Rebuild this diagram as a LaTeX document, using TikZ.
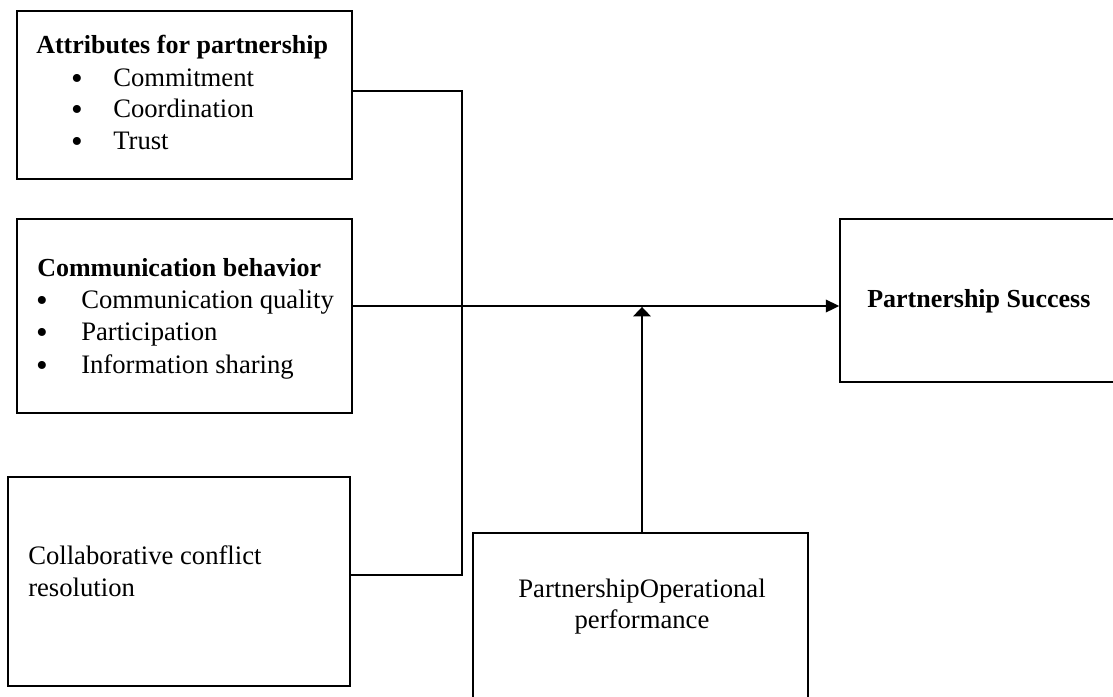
\documentclass[tikz,border=0pt]{standalone}
\usepackage{fontspec}
\setmainfont{Liberation Serif}
\usetikzlibrary{arrows.meta,fit}
\begin{document}
\begin{tikzpicture}[x=0.75pt,y=-0.75pt,
  box/.style={draw, line width=1.3pt, inner sep=0pt},
  txt/.style={inner sep=0pt, anchor=base west, font=\fontsize{20}{24}\selectfont},
  btxt/.style={inner sep=0pt, anchor=base west, font=\fontsize{19.5}{24}\selectfont\bfseries},
  ctxt/.style={inner sep=0pt, anchor=base, font=\fontsize{20}{24}\selectfont},
  bul/.style={inner sep=0pt, anchor=base, font=\fontsize{25}{24}\selectfont},
  conn/.style={line width=1.3pt},
  arr/.style={conn, -{Triangle[length=10pt,width=9.5pt]}},
  uarr/.style={conn, -{Triangle[length=7pt,width=13pt]}}]
\useasboundingbox (0,0) rectangle (1113,696);
\clip (0,0) rectangle (1113,696);

% boxes
\node[box, fit={(17,11) (352,179)}] (b1) {};
\node[box, fit={(17,219) (352,413)}] (b2) {};
\node[box, fit={(8,477) (350,686)}] (b3) {};
\node[box, fit={(840,219) (1125,382)}] (b4) {};
\node[box, fit={(473,533) (808,720)}] (b5) {};

% box 1 text
\node[btxt] (t1) at (36,53) {Attributes for partnership};
\node[bul] (b1a) at (77,89) {\textbullet};
\node[txt] (t1a) at (113,86) {Commitment};
\node[bul] (b1b) at (77,120) {\textbullet};
\node[txt] (t1b) at (113,117) {Coordination};
\node[bul] (b1c) at (77,152) {\textbullet};
\node[txt] (t1c) at (113,149) {Trust};

% box 2 text
\node[btxt] (t2) at (37,276) {Communication behavior};
\node[bul] (b2a) at (42,311) {\textbullet};
\node[txt] (t2a) at (81,308) {Communication quality};
\node[bul] (b2b) at (42,343) {\textbullet};
\node[txt] (t2b) at (81,340) {Participation};
\node[bul] (b2c) at (42,376) {\textbullet};
\node[txt] (t2c) at (81,373) {Information sharing};

% box 3 text
\node[txt] (t3a) at (28,564) {Collaborative conflict};
\node[txt] (t3b) at (28,596) {resolution};

% box 4 text
\node[btxt] (t4) at (867,307) {Partnership Success};

% box 5 text
\node[ctxt] (t5a) at (642,597) {PartnershipOperational};
\node[ctxt] (t5b) at (642,628) {performance};

% connectors
\coordinate (j1) at (462,91);
\coordinate (j2) at (462,575);
\coordinate (m) at (642,306);
\draw[conn] (b1.east |- j1) -- (j1) -- (j2) -- (b3.east |- j2);
\draw[arr] (b2.east |- m) -- (b4.west |- m);
\draw[uarr] (b5.north -| m) -- ([yshift=-0.7pt]m);
\end{tikzpicture}
\end{document}
